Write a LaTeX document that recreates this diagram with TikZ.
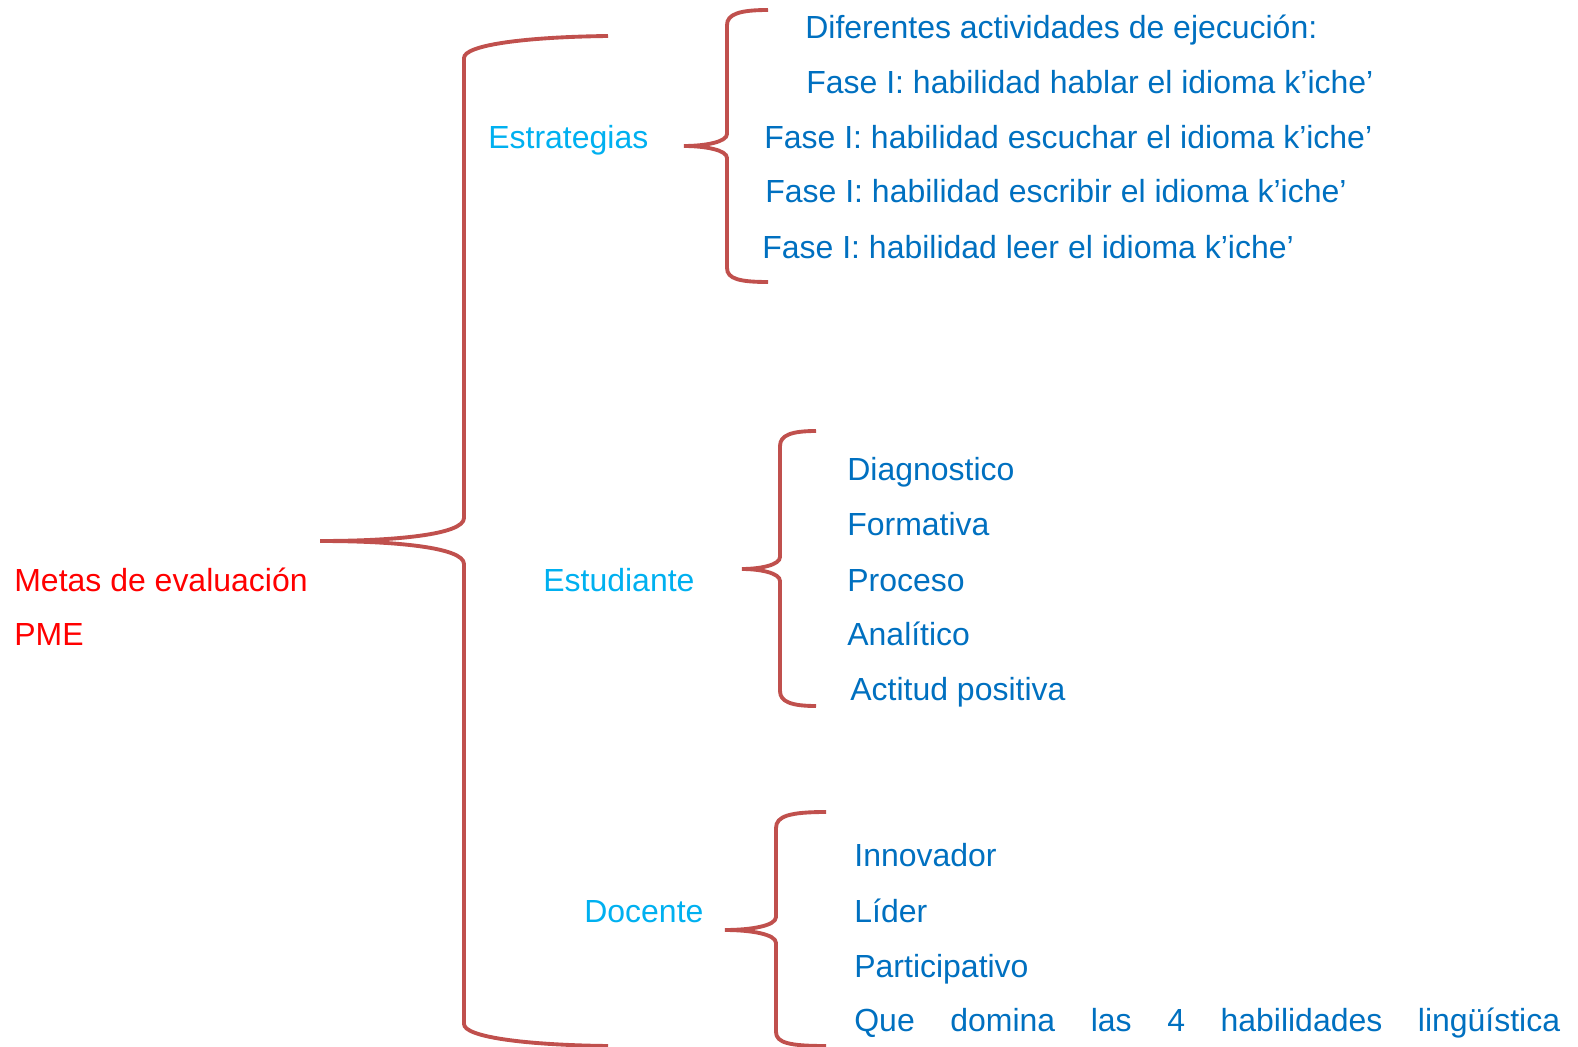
\documentclass[tikz,border=0pt]{standalone}
\usepackage{fontspec}
\setmainfont{Liberation Sans}
\usetikzlibrary{positioning}
\definecolor{bracered}{HTML}{C0504D}
\definecolor{metared}{HTML}{FF0000}
\definecolor{catblue}{HTML}{00B0F0}
\definecolor{itemblue}{HTML}{0070C0}
\tikzset{
  brc/.style={draw=bracered, line width=2.2pt},
  txt/.style={font=\fontsize{18.2}{22}\selectfont, anchor=base west, inner sep=0pt},
  meta/.style={txt, text=metared},
  cat/.style={txt, text=catblue},
  item/.style={txt, text=itemblue}
}
\begin{document}
\begin{tikzpicture}[x=0.02cm, y=-0.02cm]
    \useasboundingbox (0,0) rectangle (1578,1047);

    % Main goal
    \node[meta] (metas) at (14,591) {Metas de evaluación};
    \node[meta] (pme) at (14,645) {PME};

    % Big brace
    \draw[brc] (608,36) .. controls (525,37) and (464,45) .. (464,58)
        -- (464,518) .. controls (464,535) and (392,541) .. (320,541)
        .. controls (392,541) and (464,547) .. (464,564)
        -- (464,1024) .. controls (464,1037) and (525,1045) .. (608,1046);

    % Categories
    \node[cat] (estr) at (488,149) {Estrategias};
    \node[cat] (estu) at (543,591) {Estudiante};
    \node[cat] (doce) at (584,922) {Docente};

    % Brace of Estrategias
    \draw[brc] (768,10) .. controls (740,10) and (727,14) .. (727,25)
        -- (727,134) .. controls (727,142) and (705,146) .. (684,146)
        .. controls (705,146) and (727,150) .. (727,158)
        -- (727,268) .. controls (727,279) and (740,282) .. (768,282);

    \node[item] (e1) at (805,39) {Diferentes actividades de ejecución:};
    \node[item] (e2) at (806,94) {Fase I: habilidad hablar el idioma k’iche’};
    \node[item] (e3) at (764,149) {Fase I: habilidad escuchar el idioma k’iche’};
    \node[item] (e4) at (765,203) {Fase I: habilidad escribir el idioma k’iche’};
    \node[item] (e5) at (762,259) {Fase I: habilidad leer el idioma k’iche’};

    % Brace of Estudiante
    \draw[brc] (816,431) .. controls (792,431) and (780,435) .. (780,446)
        -- (780,557) .. controls (780,565) and (760,569) .. (742,569)
        .. controls (760,569) and (780,573) .. (780,581)
        -- (780,691) .. controls (780,702) and (792,706) .. (816,706);

    \node[item] (s1) at (847,480) {Diagnostico};
    \node[item] (s2) at (847,535) {Formativa};
    \node[item] (s3) at (847,591) {Proceso};
    \node[item] (s4) at (847,645) {Analítico};
    \node[item] (s5) at (850,700) {Actitud positiva};

    % Brace of Docente
    \draw[brc] (826,812) .. controls (790,812) and (776,816) .. (776,828)
        -- (776,917) .. controls (776,926) and (750,930) .. (725,930)
        .. controls (750,930) and (776,934) .. (776,943)
        -- (776,1032) .. controls (776,1043) and (790,1046) .. (826,1046);

    \node[item] (d1) at (854,866) {Innovador};
    \node[item] (d2) at (854,922) {Líder};
    \node[item] (d3) at (854,977) {Participativo};
    \node[item] (d4) at (854,1031) {\makebox[14.12cm][s]{Que domina las 4 habilidades lingüística}};
\end{tikzpicture}
\end{document}
